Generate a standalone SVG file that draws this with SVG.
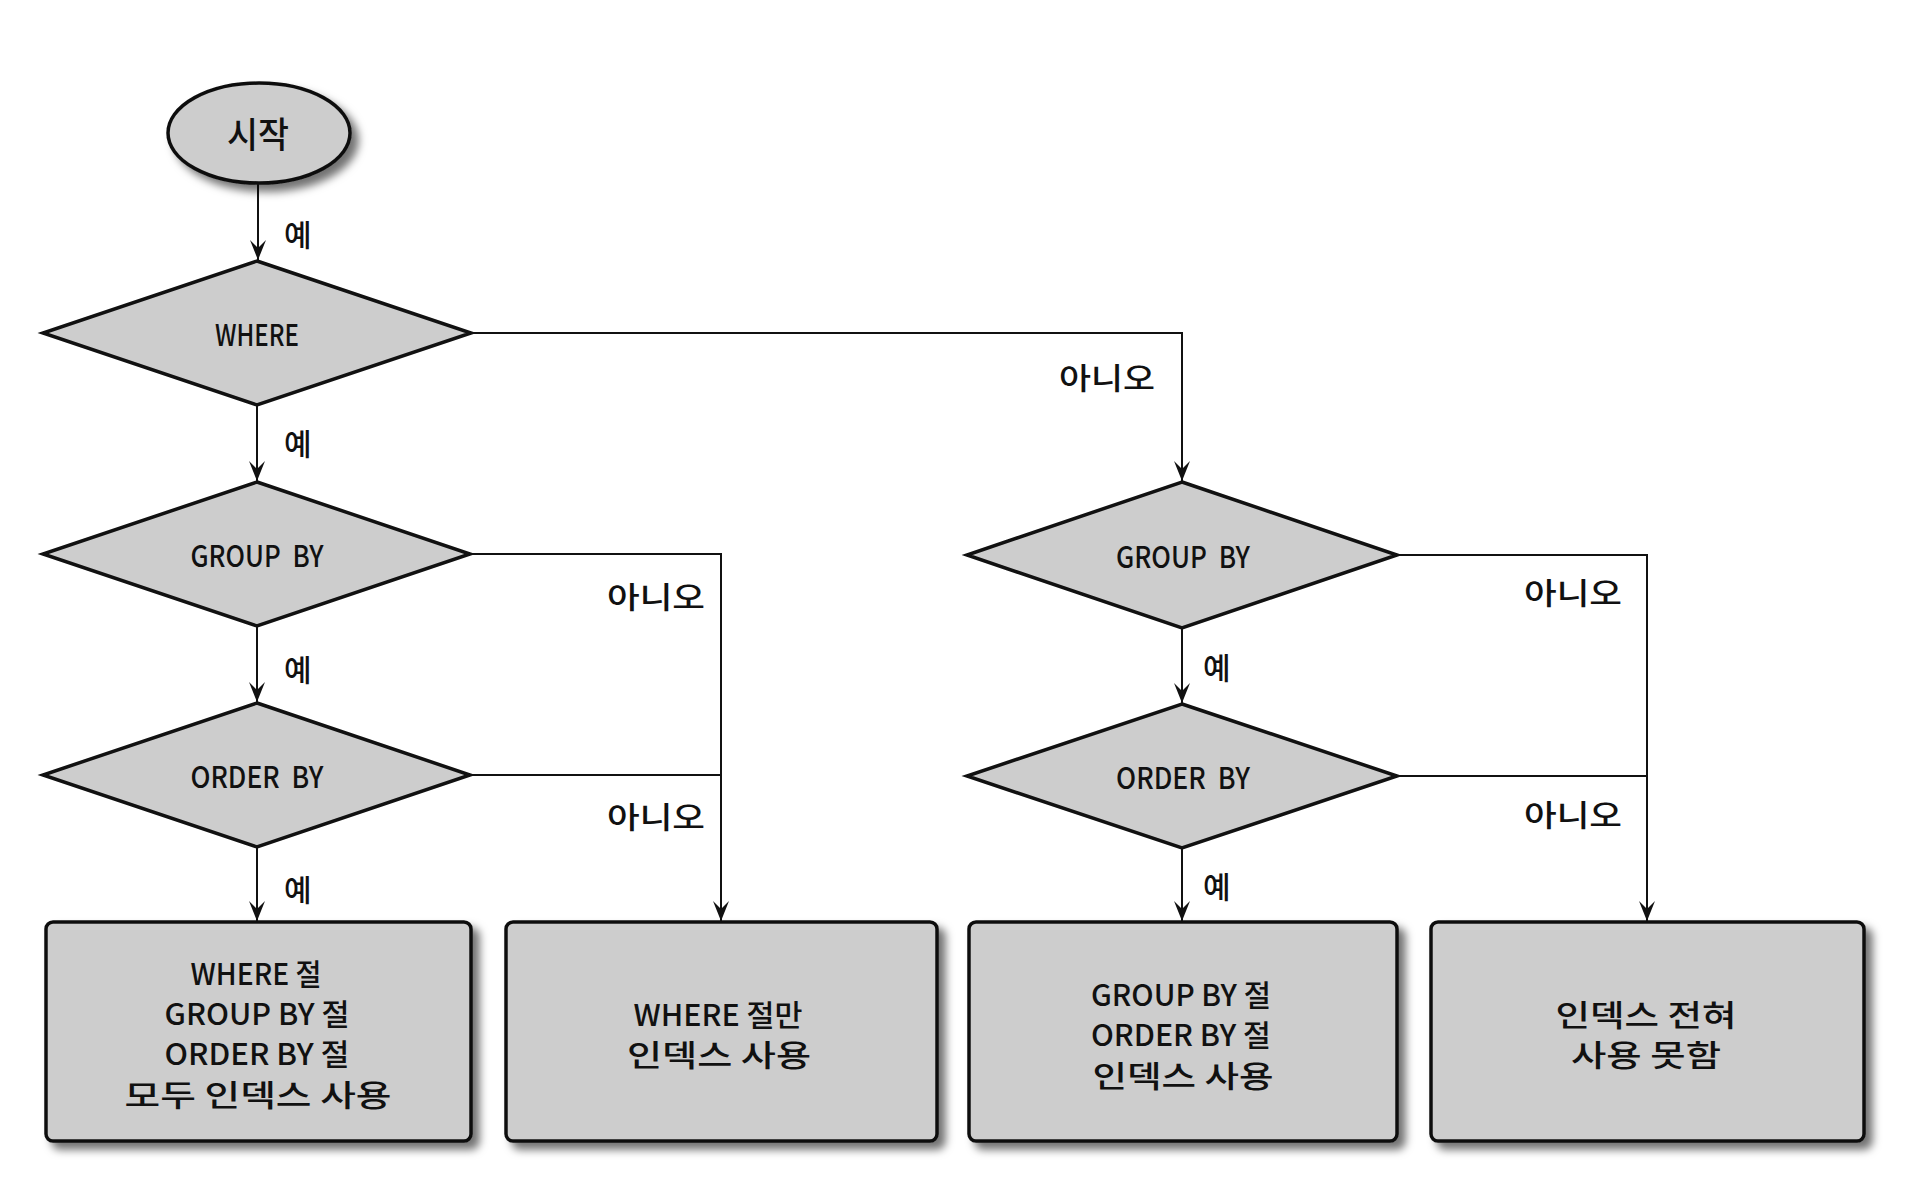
<svg xmlns="http://www.w3.org/2000/svg" width="1920" height="1181" viewBox="0 0 1920 1181">
<defs>
<style>
.shape{fill:#cdcdcd;stroke:#111;stroke-width:3.5;stroke-linejoin:round}
.diam{fill:#cdcdcd;stroke:#111;stroke-width:3.5;stroke-linejoin:miter}
.t{font-family:"Noto Sans CJK KR","Noto Sans",sans-serif;fill:#111;dominant-baseline:central;text-anchor:middle;font-weight:500}
.node{font-size:30px}
.lbl{font-family:"Noto Sans CJK KR","Noto Sans",sans-serif;fill:#111;font-size:30px;dominant-baseline:central;font-weight:500}
.conn{fill:none;stroke:#111;stroke-width:2}
</style>
<marker id="arr" markerUnits="userSpaceOnUse" markerWidth="24" markerHeight="24" viewBox="-22 -12 24 24" refX="0" refY="0" orient="auto">
<path d="M0,0 L-20,-8 L-12,0 L-20,8 Z" fill="#111"/>
</marker>
<filter id="shadow" x="-10%" y="-10%" width="130%" height="130%">
<feGaussianBlur in="SourceAlpha" stdDeviation="4"/>
<feOffset dx="7" dy="7" result="b"/>
<feFlood flood-color="#000" flood-opacity="0.55"/>
<feComposite in2="b" operator="in"/>
<feMerge><feMergeNode/><feMergeNode in="SourceGraphic"/></feMerge>
</filter>
</defs>
<rect width="1920" height="1181" fill="#fff"/>

<g id="connectors">
<line class="conn" x1="258" y1="183" x2="258" y2="260" marker-end="url(#arr)"/>
<line class="conn" x1="257" y1="406" x2="257" y2="481" marker-end="url(#arr)"/>
<line class="conn" x1="257" y1="627" x2="257" y2="702" marker-end="url(#arr)"/>
<line class="conn" x1="257" y1="848" x2="257" y2="921" marker-end="url(#arr)"/>
<polyline class="conn" points="471,333 1182,333 1182,481" marker-end="url(#arr)"/>
<polyline class="conn" points="470,554 721,554 721,921" marker-end="url(#arr)"/>
<line class="conn" x1="470" y1="775" x2="721" y2="775"/>
<line class="conn" x1="1182" y1="628" x2="1182" y2="703" marker-end="url(#arr)"/>
<line class="conn" x1="1182" y1="849" x2="1182" y2="921" marker-end="url(#arr)"/>
<polyline class="conn" points="1397,555 1647,555 1647,921" marker-end="url(#arr)"/>
<line class="conn" x1="1397" y1="776" x2="1647" y2="776"/>
<text class="lbl" x="284" y="233">예</text>
<text class="lbl" x="284" y="442">예</text>
<text class="lbl" x="284" y="668">예</text>
<text class="lbl" x="284" y="888">예</text>
<text class="lbl" x="1203" y="666">예</text>
<text class="lbl" x="1203" y="885">예</text>
<text class="lbl" x="1059" y="376" textLength="96" lengthAdjust="spacingAndGlyphs">아니오</text>
<text class="lbl" x="607" y="595" textLength="98" lengthAdjust="spacingAndGlyphs">아니오</text>
<text class="lbl" x="607" y="815" textLength="98" lengthAdjust="spacingAndGlyphs">아니오</text>
<text class="lbl" x="1524" y="591" textLength="98" lengthAdjust="spacingAndGlyphs">아니오</text>
<text class="lbl" x="1524" y="813" textLength="98" lengthAdjust="spacingAndGlyphs">아니오</text>
</g>

<g id="start">
<ellipse class="shape" cx="259" cy="133" rx="91" ry="50" filter="url(#shadow)"/>
<text class="t" x="258" y="132" font-size="36" textLength="62" lengthAdjust="spacingAndGlyphs">시작</text>
</g>

<g id="where">
<polygon class="diam" points="257,261 471,333 257,405 43,333"/>
<text class="t node" x="257" y="333" font-size="29" textLength="84" lengthAdjust="spacingAndGlyphs">WHERE</text>
</g>

<g id="groupby-left">
<polygon class="diam" points="257,482 470,554 257,626 43,554"/>
<text class="t node" x="257" y="554" font-size="29" textLength="133" lengthAdjust="spacingAndGlyphs">GROUP&#160;&#160;BY</text>
</g>

<g id="orderby-left">
<polygon class="diam" points="257,703 470,775 257,847 43,775"/>
<text class="t node" x="257" y="775" font-size="29" textLength="133" lengthAdjust="spacingAndGlyphs">ORDER&#160;&#160;BY</text>
</g>

<g id="groupby-right">
<polygon class="diam" points="1182,482 1397,555 1182,628 967,555"/>
<text class="t node" x="1183" y="555" font-size="29" textLength="134" lengthAdjust="spacingAndGlyphs">GROUP&#160;&#160;BY</text>
</g>

<g id="orderby-right">
<polygon class="diam" points="1182,704 1397,776 1182,848 967,776"/>
<text class="t node" x="1183" y="776" font-size="29" textLength="134" lengthAdjust="spacingAndGlyphs">ORDER&#160;&#160;BY</text>
</g>

<g id="box-all">
<rect class="shape" x="46" y="922" width="425" height="219" rx="7" filter="url(#shadow)"/>
<text class="t node" x="256" y="972" textLength="131" lengthAdjust="spacingAndGlyphs">WHERE 절</text>
<text class="t node" x="257" y="1012" textLength="185" lengthAdjust="spacingAndGlyphs">GROUP BY 절</text>
<text class="t node" x="257" y="1052" textLength="185" lengthAdjust="spacingAndGlyphs">ORDER BY 절</text>
<text class="t node" x="258" y="1093" textLength="267" lengthAdjust="spacingAndGlyphs">모두 인덱스 사용</text>
</g>

<g id="box-where">
<rect class="shape" x="506" y="922" width="431" height="219" rx="7" filter="url(#shadow)"/>
<text class="t node" x="718" y="1013" textLength="169" lengthAdjust="spacingAndGlyphs">WHERE 절만</text>
<text class="t node" x="719" y="1053" textLength="184" lengthAdjust="spacingAndGlyphs">인덱스 사용</text>
</g>

<g id="box-groupby">
<rect class="shape" x="969" y="922" width="428" height="219" rx="7" filter="url(#shadow)"/>
<text class="t node" x="1181" y="993" textLength="180" lengthAdjust="spacingAndGlyphs">GROUP BY 절</text>
<text class="t node" x="1181" y="1033" textLength="180" lengthAdjust="spacingAndGlyphs">ORDER BY 절</text>
<text class="t node" x="1183" y="1074" textLength="181" lengthAdjust="spacingAndGlyphs">인덱스 사용</text>
</g>

<g id="box-none">
<rect class="shape" x="1431" y="922" width="433" height="219" rx="7" filter="url(#shadow)"/>
<text class="t node" x="1646" y="1013" textLength="181" lengthAdjust="spacingAndGlyphs">인덱스 전혀</text>
<text class="t node" x="1646" y="1053" textLength="150" lengthAdjust="spacingAndGlyphs">사용 못함</text>
</g>
</svg>
